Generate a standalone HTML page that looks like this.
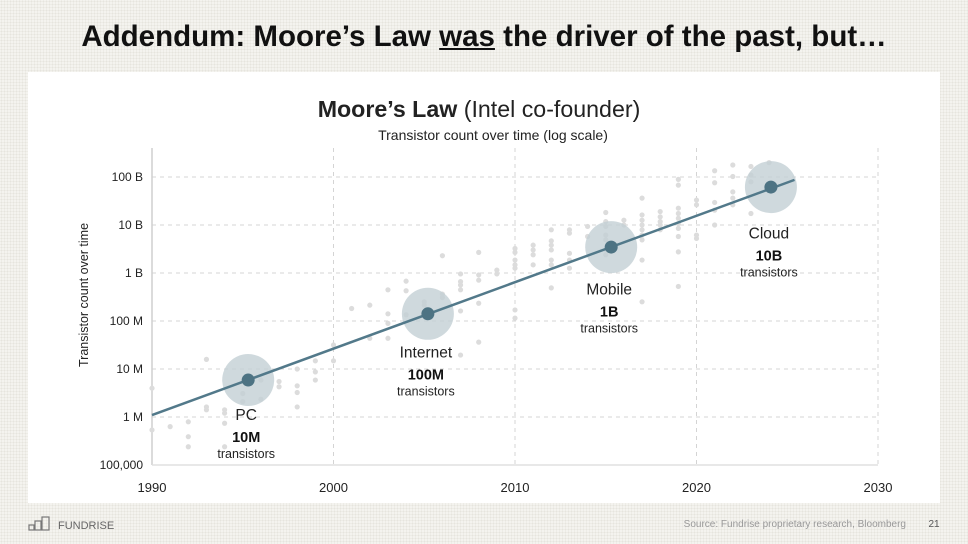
<!DOCTYPE html>
<html><head><meta charset="utf-8">
<style>
html,body{margin:0;padding:0}
body{width:968px;height:544px;position:relative;overflow:hidden;font-family:"Liberation Sans",sans-serif;
background-color:#f4f3ef;background-image:radial-gradient(#e6e4de 0.8px,transparent 0.9px);background-size:3px 3px}
#title{position:absolute;left:0;top:20px;width:968px;text-align:center;font-size:29.5px;font-weight:bold;color:#111}
#panel{position:absolute;left:28px;top:72px;width:912px;height:431px;background:#fff}
svg{position:absolute;left:0;top:0}
</style></head><body>
<div id="title">Addendum: Moore’s Law <u>was</u> the driver of the past, but…</div>
<div id="panel"></div>
<svg id="chart" width="968" height="544"></svg>
<script>
const xTicks=[1990,2000,2010,2020,2030];
const yTickExps=[5,6,7,8,9,10,11];
const yTickLabels=["100,000","1 M","10 M","100 M","1 B","10 B","100 B"];
const scatterYears=[1990,1990,1991,1992,1992,1992,1993,1993,1993,1994,1994,1994,1994,1995,1995,1996,1996,1997,1997,1998,1998,1998,1998,1999,1999,1999,2000,2000,2001,2002,2002,2003,2003,2003,2003,2004,2004,2004,2005,2005,2006,2006,2006,2007,2007,2007,2007,2007,2007,2008,2008,2008,2008,2008,2009,2009,2010,2010,2010,2010,2010,2010,2010,
2011,2011,2011,2011,2012,2012,2012,2012,2012,2012,2012,2013,2013,2013,2013,2013,2014,2014,2015,2015,2015,2015,2015,2015,2015,2016,2016,2017,2017,2017,2017,2017,2017,2017,2017,2017,2018,2018,2018,2018,2018,2019,2019,2019,2019,2019,2019,2019,2019,2019,2019,2020,2020,2020,2020,2021,2021,2021,2021,2021,2022,2022,2022,2022,2022,2023,2023,2023,2023,2024];
const scatterLogCounts=[6.60,5.73,5.80,5.90,5.59,5.38,7.20,6.21,6.15,6.15,6.08,5.87,5.38,6.49,6.32,6.77,6.37,6.74,6.63,7.0,6.65,6.51,6.21,7.17,6.94,6.77,7.5,7.17,8.26,8.33,7.64,8.65,8.15,7.95,7.64,8.83,8.63,8.13,8.40,8.33,9.36,8.56,8.49,8.98,8.82,8.75,8.65,8.21,7.29,9.43,8.96,8.85,8.37,7.56,9.06,8.98,9.51,9.43,9.27,9.17,9.10,8.23,8.06,
9.58,9.48,9.38,9.17,9.90,9.67,9.58,9.48,9.27,9.17,8.69,9.90,9.83,9.41,9.27,9.10,9.97,9.76,10.26,10.07,9.97,9.79,9.69,9.48,9.38,10.10,10.0,10.56,10.21,10.10,10.0,9.90,9.79,9.69,9.27,8.40,10.28,10.17,10.07,10.0,9.90,10.95,10.83,10.35,10.24,10.14,10.03,9.93,9.76,9.44,8.72,10.52,10.42,9.79,9.72,11.13,10.88,10.47,10.31,10.0,11.25,11.01,10.69,10.56,10.42,11.22,11.04,10.90,10.24,11.30];
const eraNames=["PC","Internet","Mobile","Cloud"];
const eraCountLabels=["10M","100M","1B","10B"];
const eraYears=[1995.3,2005.2,2015.3,2024.1];
const eraLogCounts=[6.77,8.15,9.54,10.79];
const trendYears=[1990,2025.4];
const trendLogCounts=[6.04,10.94];

const NS="http://www.w3.org/2000/svg";
const svg=document.getElementById('chart');
const X0=152,X1=878,Y0=465,Y1=177;
const xs=y=>X0+(y-1990)/(2030-1990)*(X1-X0);
const ys=e=>Y0-(e-5)/(11-5)*(Y0-Y1);
function mk(tag,attrs,parent){const el=document.createElementNS(NS,tag);for(const k in attrs)el.setAttribute(k,attrs[k]);(parent||svg).appendChild(el);return el;}
const F='"Liberation Sans",sans-serif';
function txt(x,y,s,size,opt){opt=opt||{};const t=mk('text',{x:x,y:y,'font-size':size,'font-family':F,fill:opt.fill||'#222','text-anchor':opt.anchor||'middle','font-weight':opt.bold?'bold':'normal'});t.textContent=s;return t;}

let t=txt(479,117,"",23.2);


let b=mk('tspan',{'font-weight':'bold'},t);b.textContent="Moore’s Law";
let r=mk('tspan',{},t);r.textContent=" (Intel co-founder)";
t=txt(493,140,"Transistor count over time (log scale)",14);



yTickExps.forEach((e,i)=>{
 if(i>0){const g=mk('line',{x1:X0,x2:X1,y1:ys(e),y2:ys(e),stroke:'#d4d4d4','stroke-dasharray':'4,4'});
 
 }
 const l=txt(143,ys(e)+4,yTickLabels[i],12,{anchor:'end'});
 
 
});
xTicks.forEach(v=>{
 if(v>1990){const g=mk('line',{x1:xs(v),x2:xs(v),y1:148,y2:Y0,stroke:'#d4d4d4','stroke-dasharray':'4,4'});
 
 }
 const l=txt(xs(v),492,String(v),13);
 
 
});
let ax=mk('line',{x1:X0,x2:X0,y1:148,y2:Y0,stroke:'#cfcfcf','stroke-width':1.5});


ax=mk('line',{x1:X0,x2:X1,y1:Y0,y2:Y0,stroke:'#e0e0e0','stroke-width':1.5});


t=txt(0,0,"Transistor count over time",12.5);
t.setAttribute('transform','translate(88,295) rotate(-90)');



scatterYears.forEach((yr,i)=>{
 const c=mk('circle',{cx:xs(yr),cy:ys(scatterLogCounts[i]),r:2.6,fill:'#dcdcdc'});
 
 
});
eraYears.forEach((yr,i)=>{
 const c=mk('circle',{cx:xs(yr),cy:ys(eraLogCounts[i]),r:26,fill:'#c3d0d5','fill-opacity':0.8});
 
 
});
const tl=mk('line',{x1:xs(trendYears[0]),y1:ys(trendLogCounts[0]),x2:xs(trendYears[1]),y2:ys(trendLogCounts[1]),stroke:'#52798a','stroke-width':2.5});


eraYears.forEach((yr,i)=>{
 const cx=xs(yr),cy=ys(eraLogCounts[i]);
 const off=i*3.8;
 const c=mk('circle',{cx:cx,cy:cy,r:6.5,fill:'#4d7383'});
 
 
 let a=txt(cx-2,cy+40+off,eraNames[i],15.5);
 
 
 a=txt(cx-2,cy+62+off,eraCountLabels[i],14.5,{bold:true,fill:'#111'});
 
 
 a=txt(cx-2,cy+78+off,"transistors",12.5);
 
 
});

// footer
const logo=mk('g',{});


[[29,525,5,5],[35,521,6,9],[42,517,7,13]].forEach(d=>mk('rect',{x:d[0],y:d[1],width:d[2],height:d[3],fill:'none',stroke:'#777','stroke-width':1.2},logo));
t=txt(58,529,"FUNDRISE",11,{anchor:'start',fill:'#666'});logo.appendChild(t);
t=txt(906,527,"Source: Fundrise proprietary research, Bloomberg",10,{anchor:'end',fill:'#999'});


t=txt(934,527,"21",10,{fill:'#555'});


</script>
</body></html>
